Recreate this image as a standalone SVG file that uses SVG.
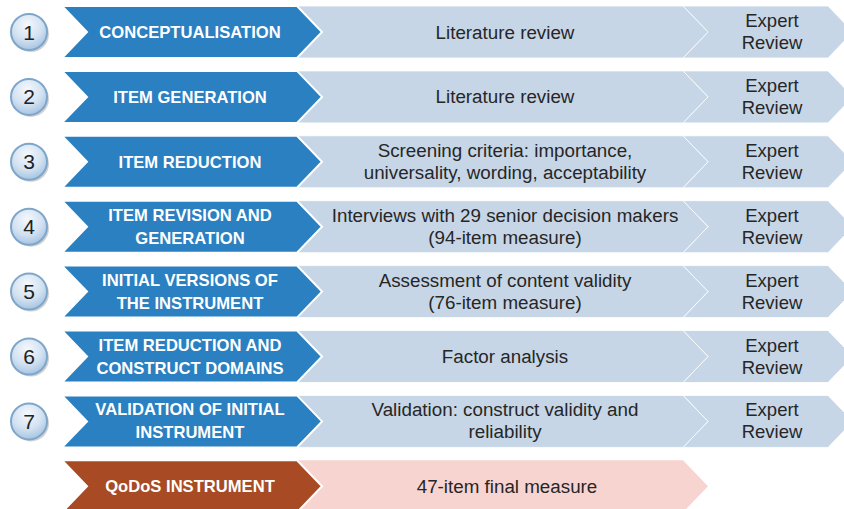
<svg xmlns="http://www.w3.org/2000/svg" width="844" height="509" viewBox="0 0 844 509">
<defs>
<radialGradient id="cg" cx="0.45" cy="0.3" r="0.75">
<stop offset="0" stop-color="#f4f8fd"/>
<stop offset="0.55" stop-color="#d3e2f1"/>
<stop offset="1" stop-color="#9fbfdf"/>
</radialGradient>
<polygon id="blue" points="62,0 297,0 322,26 297,52 62,52 87,26"/>
<polygon id="mid" points="297,0 683,0 708,26 683,52 297,52 322,26"/>
<polygon id="end" points="683,0 828,0 853,26 828,52 683,52 708,26"/>
<g id="num">
<circle cx="31" cy="28" r="18" fill="#9a9a9a" opacity="0.45"/>
<circle cx="29" cy="26" r="18" fill="url(#cg)" stroke="#7ea6cb" stroke-width="2"/>
</g>
</defs>
<style>
.b{fill:#2a80c1;stroke:#fff;stroke-width:2}
.l{fill:#c6d6e6;stroke:#fff;stroke-width:1;stroke-opacity:0.8}
.br{fill:#a84b24;stroke:#fff;stroke-width:2}
.pk{fill:#f8d4d1}
.bt{font-family:"Liberation Sans",Arial,sans-serif;font-weight:bold;font-size:16.6px;fill:#fff;text-anchor:middle}
.t{font-family:"Liberation Sans",Arial,sans-serif;font-size:18.8px;fill:#262626;text-anchor:middle}
.e{font-family:"Liberation Sans",Arial,sans-serif;font-size:18.5px;fill:#262626;text-anchor:middle}
.n{font-family:"Liberation Sans",Arial,sans-serif;font-size:21px;fill:#222;text-anchor:middle}
</style>

<g id="row1" transform="translate(0,6)">
<use href="#end" class="l"/><use href="#mid" class="l"/><use href="#blue" class="b"/><use href="#num"/>
<text class="n" x="29" y="33.5">1</text>
<text class="bt" x="190" y="32">CONCEPTUALISATION</text>
<text class="t" x="505" y="32.5">Literature review</text>
<text class="e" x="772" y="21">Expert</text><text class="e" x="772" y="43">Review</text>
</g>

<g id="row2" transform="translate(0,70.9)">
<use href="#end" class="l"/><use href="#mid" class="l"/><use href="#blue" class="b"/><use href="#num"/>
<text class="n" x="29" y="33.5">2</text>
<text class="bt" x="190" y="32">ITEM GENERATION</text>
<text class="t" x="505" y="32.5">Literature review</text>
<text class="e" x="772" y="21">Expert</text><text class="e" x="772" y="43">Review</text>
</g>

<g id="row3" transform="translate(0,135.8)">
<use href="#end" class="l"/><use href="#mid" class="l"/><use href="#blue" class="b"/><use href="#num"/>
<text class="n" x="29" y="33.5">3</text>
<text class="bt" x="190" y="32">ITEM REDUCTION</text>
<text class="t" x="505" y="21">Screening criteria: importance,</text>
<text class="t" x="505" y="43">universality, wording, acceptability</text>
<text class="e" x="772" y="21">Expert</text><text class="e" x="772" y="43">Review</text>
</g>

<g id="row4" transform="translate(0,200.7)">
<use href="#end" class="l"/><use href="#mid" class="l"/><use href="#blue" class="b"/><use href="#num"/>
<text class="n" x="29" y="33.5">4</text>
<text class="bt" x="190" y="20">ITEM REVISION AND</text>
<text class="bt" x="190" y="43">GENERATION</text>
<text class="t" x="505" y="21">Interviews with 29 senior decision makers</text>
<text class="t" x="505" y="43">(94-item measure)</text>
<text class="e" x="772" y="21">Expert</text><text class="e" x="772" y="43">Review</text>
</g>

<g id="row5" transform="translate(0,265.6)">
<use href="#end" class="l"/><use href="#mid" class="l"/><use href="#blue" class="b"/><use href="#num"/>
<text class="n" x="29" y="33.5">5</text>
<text class="bt" x="190" y="20">INITIAL VERSIONS OF</text>
<text class="bt" x="190" y="43">THE INSTRUMENT</text>
<text class="t" x="505" y="21">Assessment of content validity</text>
<text class="t" x="505" y="43">(76-item measure)</text>
<text class="e" x="772" y="21">Expert</text><text class="e" x="772" y="43">Review</text>
</g>

<g id="row6" transform="translate(0,330.5)">
<use href="#end" class="l"/><use href="#mid" class="l"/><use href="#blue" class="b"/><use href="#num"/>
<text class="n" x="29" y="33.5">6</text>
<text class="bt" x="190" y="20">ITEM REDUCTION AND</text>
<text class="bt" x="190" y="43">CONSTRUCT DOMAINS</text>
<text class="t" x="505" y="32.5">Factor analysis</text>
<text class="e" x="772" y="21">Expert</text><text class="e" x="772" y="43">Review</text>
</g>

<g id="row7" transform="translate(0,395.4)">
<use href="#end" class="l"/><use href="#mid" class="l"/><use href="#blue" class="b"/><use href="#num"/>
<text class="n" x="29" y="33.5">7</text>
<text class="bt" x="190" y="20">VALIDATION OF INITIAL</text>
<text class="bt" x="190" y="43">INSTRUMENT</text>
<text class="t" x="505" y="21">Validation: construct validity and</text>
<text class="t" x="505" y="43">reliability</text>
<text class="e" x="772" y="21">Expert</text><text class="e" x="772" y="43">Review</text>
</g>

<g id="final" transform="translate(0,460.3)">
<use href="#mid" class="pk"/><use href="#blue" class="br"/>
<text class="bt" x="190" y="32">QoDoS INSTRUMENT</text>
<text class="t" x="507" y="32.5">47-item final measure</text>
</g>
</svg>
